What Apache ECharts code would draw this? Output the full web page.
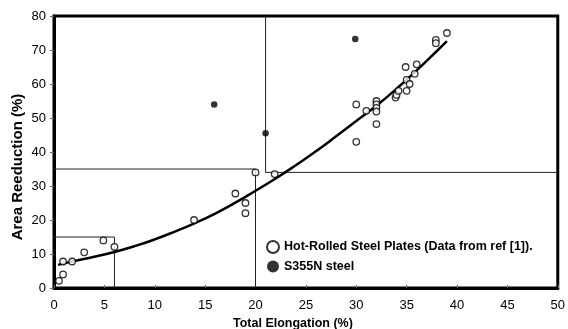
<!DOCTYPE html>
<html><head><meta charset="utf-8">
<script src="https://cdn.jsdelivr.net/npm/echarts@6/dist/echarts.min.js"></script>
<style>html,body{margin:0;padding:0;background:#fff}#c{width:568px;height:329px}</style>
</head><body><div id="c"></div>
<script>
const xTicks = [0,5,10,15,20,25,30,35,40,45,50];
const yTicks = [0,10,20,30,40,50,60,70,80];
const hotRolled = [[0.5,2.1],[0.9,4],[0.9,7.8],[1.8,7.8],[3,10.5],[4.9,14],[6,12.1],[13.9,20],[18,27.8],[19,25],[19,22],[20,34],[21.9,33.5],[30,54],[30,43],[31,52.1],[32,55],[32,54],[32,53],[32,51.9],[32,48.2],[33.9,56],[34,56.8],[34.2,58],[34.9,65],[35,61.2],[35.3,60],[35,58],[35.8,63],[36,65.8],[37.9,73],[37.9,72],[39,75]];
const s355n = [[15.9,54],[21,45.5],[29.9,73.2]];
const trend = [[0.4,6.8],[2,7.9],[4,9.2],[6,10.6],[8,12.3],[10,14.3],[12,16.6],[14,19.1],[16,21.9],[18,25.1],[20,28.6],[22,32.2],[24,36.1],[26,40.2],[28,44.6],[30,49.1],[32,53.6],[34,58.6],[36,64],[38,69.7],[39,72.6]];
const box1 = [[0,15],[6,15],[6,0]];
const box2 = [[0,35],[20,35],[20,0]];
const box3 = [[21,80],[21,34],[50,34]];
const xTitle = 'Total Elongation (%)';
const yTitle = 'Area Reeduction (%)';
const FONT = '"Liberation Sans", Arial, sans-serif';
const chart = echarts.init(document.getElementById('c'), null, {renderer:'canvas'});
const thin = (d) => ({type:'line', data:d, symbol:'none', silent:true, lineStyle:{color:'#222', width:1}, z:1});
chart.setOption({
  animation:false,
  textStyle:{fontFamily:FONT},
  grid:{left:54, right:9, top:16, bottom:41, show:true, borderColor:'#000', borderWidth:3},
  graphic:[
    {type:'text', left:233, top:317, style:{text:xTitle, fontFamily:FONT, fontSize:12.5, fontWeight:'bold', fill:'#000'}},
    {type:'text', x:18, y:167, rotation:Math.PI/2, style:{text:yTitle, fontFamily:FONT, fontSize:15, fontWeight:'bold', fill:'#000', align:'center', verticalAlign:'middle'}}
  ],
  xAxis:{type:'value', min:0, max:50, interval:5,
    axisLine:{show:true, lineStyle:{color:'#000', width:3}},
    axisTick:{show:true, inside:true, length:3, lineStyle:{color:'#666', width:1}},
    axisLabel:{fontFamily:FONT, fontSize:13, color:'#000', margin:11},
    splitLine:{show:false}},
  yAxis:{type:'value', min:0, max:80, interval:10,
    axisLine:{show:true, lineStyle:{color:'#000', width:3}},
    axisTick:{show:true, inside:false, length:4, lineStyle:{color:'#666', width:1}},
    axisLabel:{fontFamily:FONT, fontSize:13, color:'#000', margin:8},
    splitLine:{show:false}},
  legend:{orient:'vertical', left:266, top:240, padding:0, itemWidth:12, itemHeight:12, itemGap:6,
    textStyle:{fontFamily:FONT, fontSize:12.5, fontWeight:'bold', color:'#000'},
    data:[{name:'Hot-Rolled Steel Plates (Data from ref [1]).', icon:'circle'},{name:'S355N steel', icon:'circle'}]},
  series:[
    thin(box1), thin(box2), thin(box3),
    {type:'line', data:trend, smooth:true, symbol:'none', silent:true, lineStyle:{color:'#000', width:2.5}, z:2},
    {type:'scatter', name:'Hot-Rolled Steel Plates (Data from ref [1]).', data:hotRolled, symbol:'circle', symbolSize:6.5,
      itemStyle:{color:'#fff', borderColor:'#000', borderWidth:1.3}, z:3},
    {type:'scatter', name:'S355N steel', data:s355n, symbol:'circle', symbolSize:6.5,
      itemStyle:{color:'#000'}, z:3}
  ]
});
</script></body></html>
